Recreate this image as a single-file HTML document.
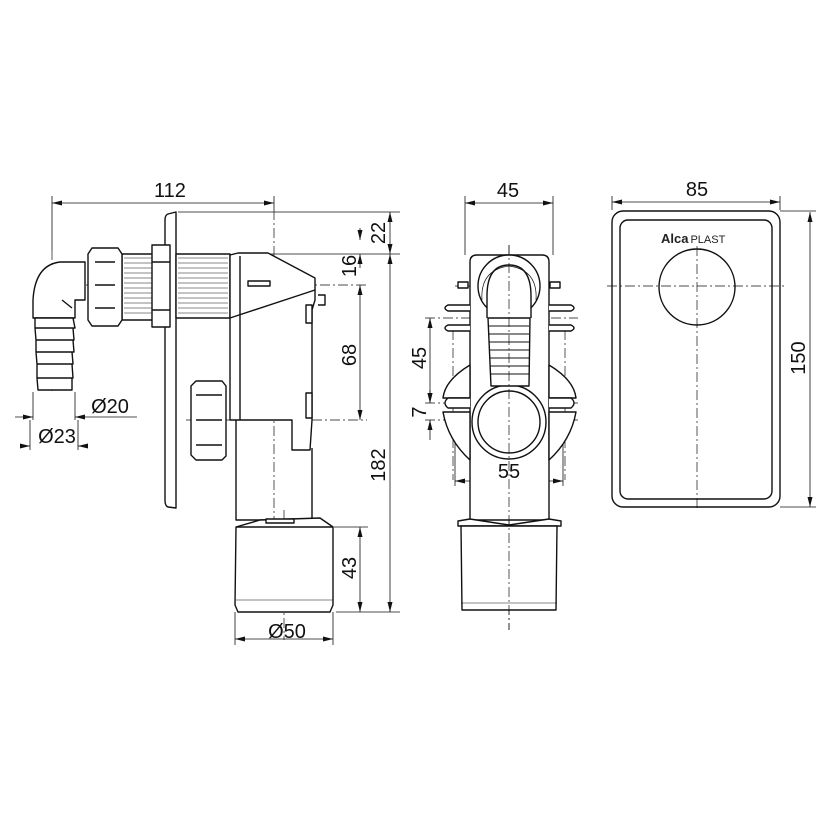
<!DOCTYPE html>
<html><head><meta charset="utf-8"><style>
html,body{margin:0;padding:0;background:#fff;width:830px;height:830px;overflow:hidden}
svg{display:block}
text{font-family:"Liberation Sans",sans-serif;fill:#111}
</style></head><body>
<svg width="830" height="830" viewBox="0 0 830 830" xmlns="http://www.w3.org/2000/svg">
<defs>
<marker id="a" viewBox="0 0 12 6" refX="12" refY="3" markerWidth="12" markerHeight="5" orient="auto-start-reverse" markerUnits="userSpaceOnUse"><path d="M0,0 L12,3 L0,6z" fill="#111"/></marker>
</defs>
<g stroke="#111" fill="none" stroke-width="0.8">
<g stroke-dasharray="10,3,2,3" stroke-width="0.7">
<line x1="50" y1="285" x2="367" y2="285"/>
<line x1="274" y1="210" x2="274" y2="540"/>
<line x1="284" y1="510" x2="284" y2="640"/>
<line x1="186" y1="420" x2="367" y2="420"/>
<line x1="52" y1="250" x2="52" y2="393"/>
<line x1="509" y1="245" x2="509" y2="630"/>
<line x1="455" y1="286" x2="563" y2="286"/>
<line x1="425" y1="318" x2="578" y2="318"/>
<line x1="425" y1="403" x2="578" y2="403"/>
<line x1="425" y1="420" x2="578" y2="420"/>
<line x1="453" y1="330" x2="453" y2="480"/>
<line x1="565" y1="330" x2="565" y2="480"/>
</g>
<line x1="52" y1="196" x2="52" y2="250"/>
<line x1="274" y1="196" x2="274" y2="210"/>
<line x1="178" y1="212" x2="400" y2="212"/>
<line x1="260" y1="254" x2="400" y2="254"/>
<line x1="336" y1="612" x2="400" y2="612"/>
<line x1="334" y1="527" x2="368" y2="527"/>
<line x1="235" y1="612" x2="235" y2="645"/>
<line x1="333" y1="612" x2="333" y2="645"/>
<line x1="33" y1="392" x2="33" y2="420"/>
<line x1="75" y1="392" x2="75" y2="420"/>
<line x1="30" y1="420" x2="30" y2="450"/>
<line x1="78" y1="420" x2="78" y2="450"/>
<line x1="465" y1="196" x2="465" y2="255"/>
<line x1="553" y1="196" x2="553" y2="255"/>
<line x1="455" y1="420" x2="455" y2="486"/>
<line x1="563" y1="420" x2="563" y2="486"/>
<line x1="612" y1="196" x2="612" y2="210"/>
<line x1="780" y1="196" x2="780" y2="210"/>
<line x1="780" y1="211" x2="816" y2="211"/>
<line x1="780" y1="507" x2="816" y2="507"/>
<g marker-start="url(#a)" marker-end="url(#a)">
<line x1="52" y1="203" x2="274" y2="203"/>
<line x1="390" y1="212" x2="390" y2="254"/>
<line x1="390" y1="254" x2="390" y2="612"/>
<line x1="360" y1="285" x2="360" y2="420"/>
<line x1="360" y1="527" x2="360" y2="612"/>
<line x1="235" y1="639" x2="333" y2="639"/>
<line x1="465" y1="203" x2="553" y2="203"/>
<line x1="430" y1="318" x2="430" y2="403"/>
<line x1="455" y1="481" x2="563" y2="481"/>
<line x1="612" y1="202" x2="780" y2="202"/>
<line x1="810" y1="212" x2="810" y2="507"/>
</g>
<line x1="360" y1="228" x2="360" y2="240" marker-end="url(#a)"/>
<line x1="360" y1="268" x2="360" y2="254" marker-end="url(#a)"/>
<line x1="15" y1="417" x2="33" y2="417" marker-end="url(#a)"/>
<line x1="137" y1="417" x2="75" y2="417" marker-end="url(#a)"/>
<line x1="20" y1="446" x2="30" y2="446" marker-end="url(#a)"/>
<line x1="88" y1="446" x2="78" y2="446" marker-end="url(#a)"/>
<line x1="430" y1="390" x2="430" y2="403" marker-end="url(#a)"/>
<line x1="430" y1="440" x2="430" y2="420" marker-end="url(#a)"/>
</g>

<g stroke="#111" fill="#fff" stroke-width="1.4" stroke-linejoin="round">
<path d="M176,212 L168,214 Q165,215 165,220 L165,500 Q165,506 168,507 L176,508 Z"/>
<rect x="122" y="254" width="32" height="66"/>
<rect x="176" y="254" width="54" height="64"/>
<g stroke-width="0.5"><path d="M124,258h28M124,263h28M124,268h28M124,273h28M124,278h28M124,283h28M124,288h28M124,293h28M124,298h28M124,303h28M124,308h28M124,313h28M178,258h50M178,263h50M178,268h50M178,273h50M178,278h50M178,283h50M178,288h50M178,293h50M178,298h50M178,303h50M178,308h50M178,313h50"/></g>
<rect x="152" y="245" width="18" height="82"/>
<line x1="152" y1="262" x2="170" y2="262"/><line x1="152" y1="310" x2="170" y2="310"/>
<path d="M85,262 L60,262 Q35,265 33,300 L33,318 L75,318 L75,300 L85,300 Z"/>
<path d="M62,300 L72,308" fill="none"/>
<path d="M35,318 L73,318 L75,328 L35,328 Z M35,328 L73,328 L74,340 L36,340 Z M36,340 L73,340 L74,352 L36,352 Z M36,352 L72,352 L73,364 L37,364 Z M37,364 L72,364 L73,378 L37,378 Z M37,378 L72,378 L72,390 L38,390 Z"/>
<path d="M92,248 L118,248 L122,254 L122,320 L118,326 L92,326 L88,320 L88,254 Z"/>
<path d="M95,262 h20 M95,285 h20 M95,308 h20" fill="none"/>
<path d="M230,255 L238,253 L268,253 L315,278 L315,300 L312,310 L312,420 L310,450 L292,450 L292,420 L230,420 Z"/>
<path d="M230,318 L315,290" fill="none"/>
<path d="M240,256 L240,420" fill="none"/>
<rect x="248" y="281" width="22" height="5"/>
<path d="M318,295 L325,295 L325,305 L318,305" fill="none"/>
<rect x="306" y="305" width="6" height="18"/>
<rect x="306" y="393" width="6" height="25"/>
<path d="M236,420 L236,520 L312,520 L312,448" fill="none"/>
<path d="M196,381 L222,381 L226,386 L226,456 L222,460 L196,460 L191,455 L191,386 Z"/>
<path d="M196,395 h26 M196,420 h26 M196,445 h26" fill="none"/>
<path d="M236,527 L260,520 L320,518 L333,527 L333,605 L330,612 L238,612 L235,605 Z"/>
<line x1="236" y1="527" x2="333" y2="527"/>
<rect x="266" y="519" width="28" height="4"/>
<line x1="236" y1="600" x2="333" y2="600" stroke-width="0.6"/>
</g>

<g stroke="#111" fill="#fff" stroke-width="1.4" stroke-linejoin="round">
<path d="M470,262 Q470,255 477,255 L542,255 Q549,255 549,262 L549,520 L470,520 Z"/>
<rect x="458" y="282" width="10" height="6"/><rect x="550" y="282" width="10" height="6"/>
<path d="M470,305 L448,305 Q442,308 448,311 L470,311 M470,325 L448,325 Q442,328 448,331 L470,331"/>
<path d="M549,305 L571,305 Q577,308 571,311 L549,311 M549,325 L571,325 Q577,328 571,331 L549,331"/>
<path d="M470,365 Q445,380 443,398 L470,398 Z"/>
<path d="M549,365 Q574,380 576,398 L549,398 Z"/>
<path d="M443,412 Q448,440 470,460 L470,412 Z"/>
<path d="M576,412 Q571,440 549,460 L549,412 Z"/>
<path d="M470,398 L448,398 Q442,403 448,408 L470,408 M549,398 L571,398 Q577,403 571,408 L549,408"/>
<circle cx="509" cy="422" r="37"/>
<circle cx="509" cy="422" r="31" fill="none"/>
<circle cx="509" cy="286" r="31"/>
<path d="M487,318 L487,296 Q487,265 509,265 Q531,265 531,296 L531,318"/>
<path d="M482,300 Q480,270 509,266" fill="none" stroke-width="0.7"/>
<path d="M536,300 Q538,270 509,266" fill="none" stroke-width="0.7"/>
<path d="M488,318 L530,318 L529,386 L491,386 Z"/>
<path d="M489,326h40M489,334h40M489,342h40M490,350h39M490,358h39M490,366h39M491,374h38" fill="none" stroke-width="1"/>
<path d="M458,521 L470,519 L509,525 L549,519 L561,521 L561,526 L458,526 Z"/>
<path d="M461,526 L557,526 L556,610 L462,610 Z"/>
<line x1="461" y1="603" x2="557" y2="603" stroke-width="0.6"/>
</g>
<line x1="509" y1="245" x2="509" y2="630" stroke="#111" stroke-width="0.7" stroke-dasharray="10,3,2,3"/>

<g stroke="#111" fill="#fff" stroke-width="1.4">
<rect x="612" y="211" width="168" height="296" rx="11"/>
<rect x="620" y="220" width="152" height="279" rx="8"/>
<circle cx="697" cy="287" r="38"/>
</g>
<g stroke="#111" fill="none" stroke-width="0.7" stroke-dasharray="10,3,2,3">
<line x1="607" y1="286" x2="787" y2="286"/>
<line x1="697" y1="246" x2="697" y2="510"/>
</g>
<text x="661" y="243" font-size="13" font-weight="bold" style="fill:#222">Alca<tspan font-weight="normal" font-size="11" dx="2">PLAST</tspan></text>

<g font-size="20">
<text x="170" y="197" text-anchor="middle">112</text>
<text x="508" y="197" text-anchor="middle">45</text>
<text x="697" y="196" text-anchor="middle">85</text>
<text x="110" y="413" text-anchor="middle">Ø20</text>
<text x="57" y="443" text-anchor="middle">Ø23</text>
<text x="287" y="638" text-anchor="middle">Ø50</text>
<text x="509" y="478" text-anchor="middle">55</text>
<text transform="translate(385,233) rotate(-90)" text-anchor="middle">22</text>
<text transform="translate(356,266) rotate(-90)" text-anchor="middle">16</text>
<text transform="translate(356,355) rotate(-90)" text-anchor="middle">68</text>
<text transform="translate(385,465) rotate(-90)" text-anchor="middle">182</text>
<text transform="translate(356,568) rotate(-90)" text-anchor="middle">43</text>
<text transform="translate(426,358) rotate(-90)" text-anchor="middle">45</text>
<text transform="translate(426,412) rotate(-90)" text-anchor="middle">7</text>
<text transform="translate(805,358) rotate(-90)" text-anchor="middle">150</text>
</g>
</svg>
</body></html>
